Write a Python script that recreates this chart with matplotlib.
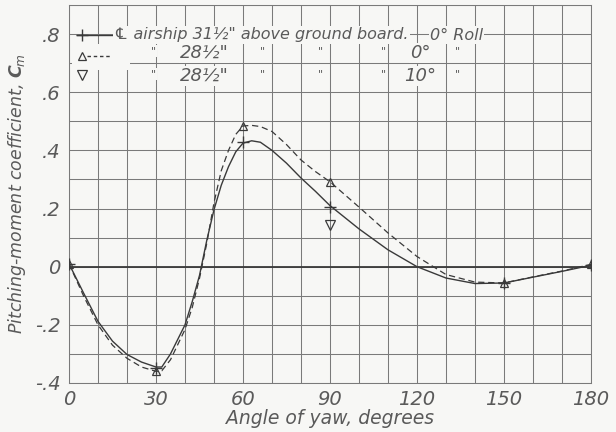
import numpy as np
import matplotlib
matplotlib.use('Agg')
import matplotlib.pyplot as plt

# tested points
yaw_pts = [0, 30, 60, 90, 150, 180]
cm_315 = [0.01, -0.347, 0.428, 0.205, -0.056, 0.006]      # + , 31 1/2", 0 deg roll
cm_285 = [0.01, -0.360, 0.484, 0.292, -0.056, 0.008]      # triangle, 28 1/2", 0 deg roll
yaw_10roll = [90]
cm_10roll = [0.145]                                        # inverted triangle, 10 deg roll

# faired curves
yaw_c1 = [0, 5, 10, 15, 20, 25, 30, 32, 35, 40, 42.5, 45, 47.5, 50, 52.5, 55, 57.5, 60,
          63, 66, 70, 75, 80, 85, 90, 100, 110, 120, 130, 140, 150, 160, 170, 180]
cm_c1 = [0.01, -0.09, -0.188, -0.256, -0.302, -0.328, -0.345, -0.345, -0.30, -0.20, -0.12,
         -0.03, 0.09, 0.196, 0.28, 0.344, 0.395, 0.425, 0.433, 0.428, 0.40, 0.356, 0.305,
         0.259, 0.21, 0.13, 0.058, 0.0, -0.039, -0.058, -0.056, -0.036, -0.016, 0.005]
yaw_c2 = [0, 5, 10, 15, 20, 25, 30, 32, 35, 40, 42.5, 45, 47.5, 50, 52.5, 55, 57.5, 60,
          63, 66, 70, 75, 80, 85, 90, 100, 110, 120, 130, 140, 150, 160, 170, 180]
cm_c2 = [0.01, -0.10, -0.20, -0.27, -0.315, -0.345, -0.36, -0.358, -0.32, -0.216, -0.14,
         -0.04, 0.08, 0.22, 0.33, 0.40, 0.455, 0.484, 0.486, 0.482, 0.465, 0.42, 0.367,
         0.327, 0.292, 0.205, 0.116, 0.035, -0.027, -0.053, -0.056, -0.035, -0.015, 0.008]

ink = '#3a3a3a'
txt = '#5a5a5a'
bg = '#f7f7f5'
fnt = dict(family='DejaVu Sans', style='italic', color=txt)

fig = plt.figure(figsize=(6.16, 4.32), dpi=100)
fig.patch.set_facecolor(bg)
ax = fig.add_axes([69/616, 1-383/432, (591-69)/616, (383-5)/432])
ax.set_facecolor(bg)

ax.set_xlim(0, 180)
ax.set_ylim(-0.4, 0.9)
ax.set_xticks(np.arange(0, 181, 10), minor=True)
ax.set_yticks(np.arange(-0.4, 0.91, 0.1), minor=True)
ax.set_xticks([0, 30, 60, 90, 120, 150, 180])
ax.set_yticks([-0.4, -0.2, 0, 0.2, 0.4, 0.6, 0.8])
ax.set_xticklabels(['0', '30', '60', '90', '120', '150', '180'], fontsize=14, **fnt)
ax.set_yticklabels(['-.4', '-.2', '0', '.2', '.4', '.6', '.8'], fontsize=14, **fnt)
ax.tick_params(which='both', length=0)
ax.tick_params(axis='x', pad=5)
ax.tick_params(axis='y', pad=6)
ax.grid(which='both', color='#7a7a7a', linewidth=0.75)
ax.set_axisbelow(True)
for s in ax.spines.values():
    s.set_color('#7a7a7a')
    s.set_linewidth(0.75)
ax.axhline(0, color=ink, linewidth=1.3, zorder=1.5)

ax.plot(yaw_c1, cm_c1, color=ink, linewidth=1.0, zorder=3)
ax.plot(yaw_c2, cm_c2, color=ink, linewidth=0.9, linestyle=(0, (5, 3)), zorder=3)
ax.plot(yaw_pts, cm_315, linestyle='none', marker='+', markersize=8, color=ink,
        markeredgewidth=1.0, zorder=4)
ax.plot(yaw_pts, cm_285, linestyle='none', marker='^', markersize=6, color=ink,
        markerfacecolor='none', markeredgewidth=0.9, zorder=4)
ax.plot(yaw_10roll, cm_10roll, linestyle='none', marker='v', markersize=7, color=ink,
        markerfacecolor='none', markeredgewidth=0.9, zorder=4)

ax.set_xlabel('Angle of yaw, degrees', fontsize=13.5, labelpad=0, **fnt)
ax.set_ylabel('Pitching-moment coefficient, $\\mathbfit{C}_{\\!m}$', fontsize=12.5,
              labelpad=5, **fnt)

# legend, drawn as in the original lettering
tr = ax.transAxes
def key(xa, ya):
    return ((xa - 69) / 522, (383 - ya) / 378)

wb = dict(facecolor=bg, edgecolor='none', pad=0.8)
ax.add_patch(plt.Rectangle(key(72, 70), key(130, 44)[0]-key(72, 70)[0],
                           key(130, 44)[1]-key(72, 70)[1], transform=tr,
                           facecolor=bg, edgecolor='none', zorder=2))
k1 = key(77, 35); k2 = key(113, 35)
ax.plot([k1[0], k2[0]], [k1[1], k1[1]], transform=tr, color=ink, lw=1.0, zorder=4)
ax.plot([key(82, 35)[0]], [k1[1]], transform=tr, marker='+', ms=8, color=ink, zorder=4)
k3 = key(87, 56); k4 = key(110, 56)
ax.plot([k3[0], k4[0]], [k3[1], k3[1]], transform=tr, color=ink, lw=1.0,
        linestyle=(0, (2.5, 2)), zorder=4)
ax.plot([key(82, 57)[0]], [k3[1]], transform=tr, marker='^', ms=5.5, color=ink,
        mfc='none', mew=0.9, zorder=4)
ax.plot([key(82, 75)[0]], [key(82, 75)[1]], transform=tr, marker='v', ms=6.5,
        color=ink, mfc='none', mew=0.9, zorder=4)

def lab(s, xa, ya, ha='left', fs=11.5):
    p = key(xa, ya)
    ax.text(p[0], p[1], s, transform=tr, ha=ha, va='center', fontsize=fs,
            bbox=wb, zorder=5, **fnt)

lab('\u2104 airship 31\u00bd" above ground board.', 114, 35)
lab('0\u00b0 Roll', 430, 35)
for r, ang, yy in (('28\u00bd"', '0\u00b0', 53), ('28\u00bd"', '10\u00b0', 76)):
    for xd in (153, 262, 320, 383, 457):
        lab('"', xd, yy - 2, ha='center', fs=8)
    lab(r, 204, yy, ha='center', fs=13)
    lab(ang, 420, yy, ha='center', fs=13)

fig.savefig('out.png', dpi=100, facecolor=bg)
